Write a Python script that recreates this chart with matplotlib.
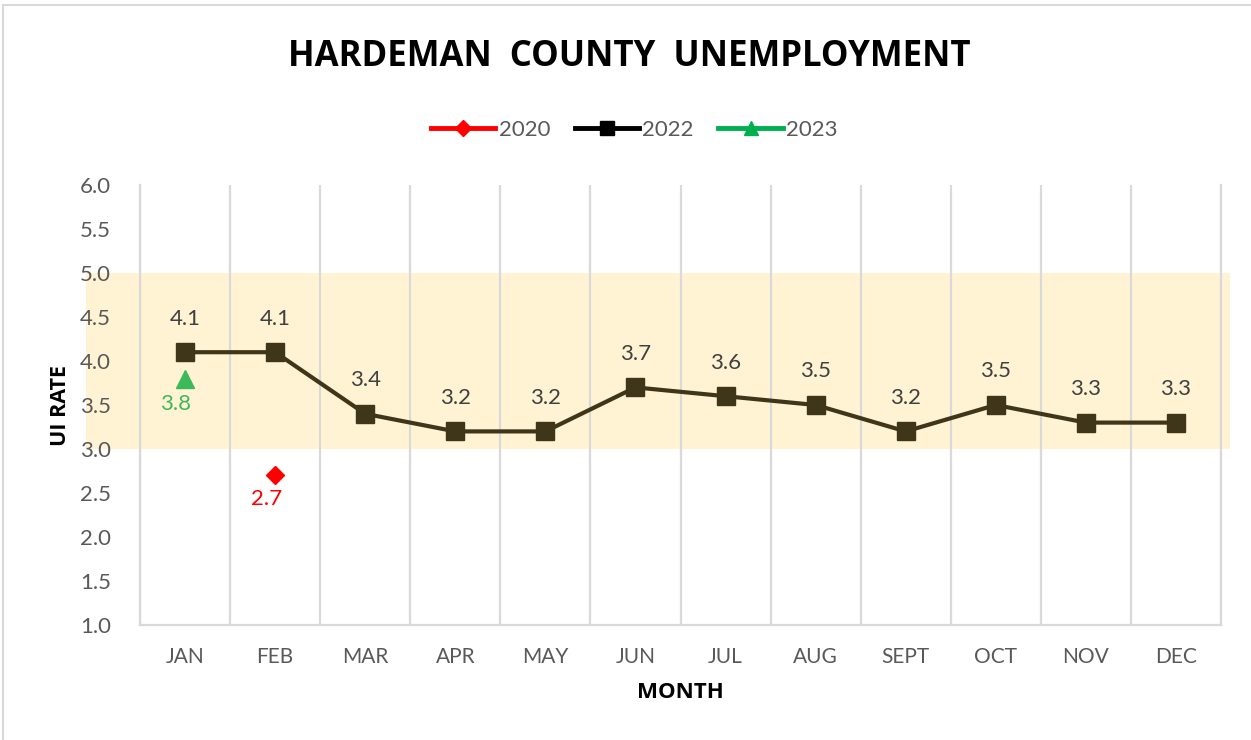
import matplotlib
matplotlib.use("Agg")
import matplotlib.pyplot as plt
from matplotlib.lines import Line2D
from matplotlib.patches import Rectangle
import numpy as np

months = ["JAN", "FEB", "MAR", "APR", "MAY", "JUN", "JUL", "AUG", "SEPT", "OCT", "NOV", "DEC"]
rate_2022 = [4.1, 4.1, 3.4, 3.2, 3.2, 3.7, 3.6, 3.5, 3.2, 3.5, 3.3, 3.3]
month_2020 = ["FEB"]
rate_2020 = [2.7]
month_2023 = ["JAN"]
rate_2023 = [3.8]
band_low, band_high = 3.0, 5.0
y_ticks = [1.0, 1.5, 2.0, 2.5, 3.0, 3.5, 4.0, 4.5, 5.0, 5.5, 6.0]

plt.rcParams['font.family'] = ['Lato', 'DejaVu Sans']

W, H = 1251, 740
fig = plt.figure(figsize=(W / 100, H / 100), dpi=100)
ax = fig.add_axes([140 / W, 1 - 625 / H, 1081 / W, 440 / H])
ax.set_facecolor('none')

x = np.arange(len(months))
idx = {m: i for i, m in enumerate(months)}

# band
ax.add_patch(Rectangle((-0.05, band_low), 1.0583, band_high - band_low,
                       transform=ax.get_yaxis_transform(), facecolor='#FFF3D4',
                       edgecolor='none', zorder=0, clip_on=False))

ax.set_xlim(-0.5, len(months) - 0.5)
ax.set_ylim(y_ticks[0], y_ticks[-1])
ax.set_yticks(y_ticks)
ax.set_yticklabels([f"{v:.1f}" for v in y_ticks])
ax.set_xticks(x)
ax.set_xticklabels(months)
ax.set_xticks(np.arange(-0.5, len(months)), minor=True)
ax.grid(True, which='minor', axis='x', color='#D9D9D9', lw=1.6, zorder=1)
ax.tick_params(which='both', length=0)
ax.tick_params(axis='y', pad=21, labelsize=16, labelcolor='#595959')
ax.tick_params(axis='x', pad=16, labelsize=15, labelcolor='#595959')
for s in ['top', 'right']:
    ax.spines[s].set_visible(False)
for s in ['left', 'bottom']:
    ax.spines[s].set_color('#D9D9D9')
    ax.spines[s].set_linewidth(1.6)
ax.axvline(len(months) - 0.5, color='#D9D9D9', lw=1.6, clip_on=False, zorder=1)

line_color = '#3F3519'
ax.plot(x, rate_2022, color=line_color, lw=3, marker='s', markersize=13, zorder=3)
for xi, v in zip(x, rate_2022):
    ax.annotate(f"{v:.1f}", (xi, v), xytext=(0, 17), textcoords='offset points',
                ha='center', va='bottom', fontsize=16, color='#404040')

xs23 = [idx[m] for m in month_2023]
ax.plot(xs23, rate_2023, linestyle='none', marker='^', markersize=13, color='#3CB95A', zorder=4)
for xi, v in zip(xs23, rate_2023):
    ax.annotate(f"{v:.1f}", (xi, v), xytext=(-7, -11), textcoords='offset points',
                ha='center', va='top', fontsize=16, color='#3CB95A')

xs20 = [idx[m] for m in month_2020]
ax.plot(xs20, rate_2020, linestyle='none', marker='D', markersize=9, color='#FF0000', zorder=4)
for xi, v in zip(xs20, rate_2020):
    ax.annotate(f"{v:.1f}", (xi, v), xytext=(-6, -10), textcoords='offset points',
                ha='center', va='top', fontsize=16, color='#FF0000')

ax.set_ylabel("UI RATE", fontsize=15.5, fontweight='bold', color='black', va='center',
              family=['Open Sans', 'DejaVu Sans'])
ax.yaxis.set_label_coords((60 - 140) / 1081, 0.5)
ax.set_xlabel("MONTH", fontsize=16, fontweight='bold', color='black', va='center',
              family=['Open Sans', 'DejaVu Sans'])
ax.xaxis.set_label_coords(0.5, (625 - 693) / 440)

fig.text(0.503, 1 - 57 / H, "HARDEMAN  COUNTY  UNEMPLOYMENT", ha='center', va='center',
         fontsize=25, fontweight='bold', color='black', family=['Open Sans', 'DejaVu Sans'])

handles = [
    Line2D([], [], color='#FF0000', lw=3.5, marker='D', markersize=8),
    Line2D([], [], color='#000000', lw=3.5, marker='s', markersize=10),
    Line2D([], [], color='#00B050', lw=3.5, marker='^', markersize=10),
]
leg = fig.legend(handles, ["2020", "2022", "2023"], loc='center', bbox_to_anchor=(0.507, 1 - 130 / H),
                 ncol=3, frameon=False, fontsize=16, handlelength=2.9, handletextpad=0.15,
                 columnspacing=1.1, labelcolor='#595959')

# outer border (top and left)
fig.add_artist(Line2D([3 / W, 3 / W], [0, 1 - 5 / H], color='#D9D9D9', lw=1.5))
fig.add_artist(Line2D([3 / W, 1], [1 - 5 / H, 1 - 5 / H], color='#D9D9D9', lw=1.5))

fig.savefig("out.png", dpi=100)
